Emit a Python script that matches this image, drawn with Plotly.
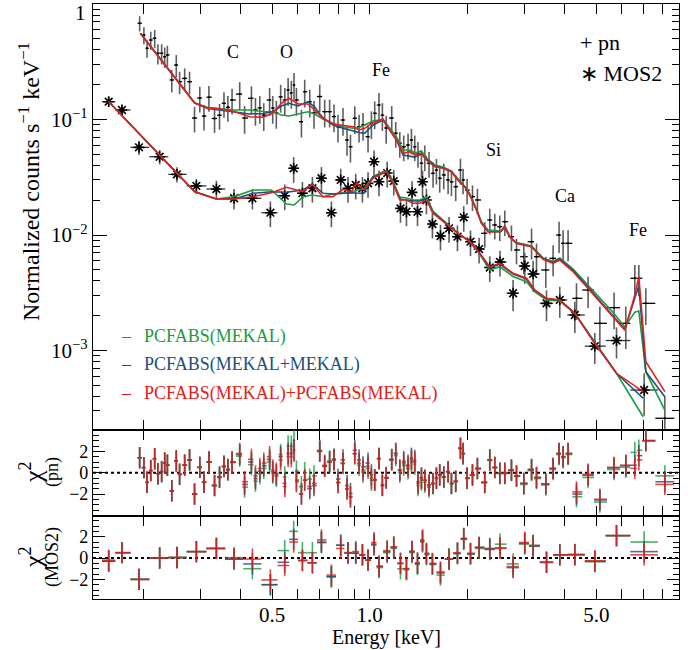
import numpy as np
import plotly.graph_objects as go

# ---------------- data ----------------
pn_E = [0.195, 0.201, 0.2055, 0.211, 0.217, 0.222, 0.228, 0.233, 0.2375, 0.245,
        0.253, 0.259, 0.2685, 0.278, 0.288, 0.299, 0.308, 0.319, 0.332, 0.344,
        0.355, 0.365, 0.376, 0.397, 0.411, 0.4315, 0.444, 0.458, 0.471, 0.491,
        0.502, 0.515, 0.531, 0.547, 0.560, 0.573, 0.584, 0.594, 0.6155, 0.630,
        0.653, 0.673, 0.701, 0.726, 0.752, 0.776, 0.798, 0.827, 0.851, 0.872,
        0.899, 0.927, 0.9535, 0.988, 1.012, 1.036, 1.068, 1.094, 1.124, 1.169,
        1.203, 1.238, 1.273, 1.313, 1.345, 1.377, 1.409, 1.444, 1.479, 1.524,
        1.568, 1.606, 1.644, 1.692, 1.745, 1.787, 1.842, 1.905, 1.941, 1.997,
        2.075, 2.149, 2.264, 2.346, 2.431, 2.519, 2.610, 2.737, 2.837, 2.988,
        3.157, 3.270, 3.493, 3.679, 3.839, 3.950, 4.093, 4.345, 4.718, 5.129,
        5.675, 6.168, 6.576, 6.765, 7.110, 8.138]
pn_flux = [0.681, 0.539, 0.4135, 0.488, 0.505, 0.374, 0.374, 0.350, 0.362, 0.220,
           0.296, 0.2125, 0.227, 0.2125, 0.103, 0.1535, 0.107, 0.156, 0.102, 0.109,
           0.138, 0.1275, 0.1475, 0.166, 0.103, 0.1526, 0.121, 0.126, 0.109, 0.1475,
           0.126, 0.114, 0.157, 0.1475, 0.180, 0.170, 0.199, 0.1475, 0.0957, 0.174,
           0.1426, 0.114, 0.158, 0.117, 0.117, 0.106, 0.0866, 0.099, 0.0665, 0.0581,
           0.1024, 0.0866, 0.0896, 0.0710, 0.0927, 0.113, 0.1335, 0.109, 0.0844, 0.103,
           0.076, 0.0622, 0.0581, 0.0601, 0.0665, 0.0581, 0.051, 0.0418, 0.0476, 0.0418,
           0.0342, 0.0365, 0.031, 0.0331, 0.030, 0.0289, 0.0262, 0.0365, 0.030, 0.0245,
           0.0215, 0.0201, 0.01034, 0.01349, 0.01221, 0.0118, 0.01303, 0.00967, 0.00742, 0.00649,
           0.00875, 0.00649, 0.00498, 0.00628, 0.0100, 0.00847, 0.00847, 0.00283, 0.00334, 0.00172,
           0.00235, 0.00172, 0.00422, 0.00422, 0.00256, 0.000259]
pn_frac = [0.15, 0.17, 0.17, 0.18, 0.18, 0.2, 0.2, 0.2, 0.2, 0.22, 0.22, 0.22, 0.22, 0.22,
           0.25, 0.25, 0.25, 0.25, 0.25, 0.25, 0.25, 0.25, 0.25,
           0.27, 0.27, 0.27, 0.27, 0.27, 0.27, 0.27, 0.27, 0.27, 0.27, 0.27, 0.27, 0.27, 0.27,
           0.27, 0.27, 0.27, 0.27, 0.27,
           0.27, 0.27, 0.27, 0.27, 0.27, 0.27, 0.27, 0.27, 0.27, 0.27, 0.27, 0.27, 0.27, 0.27,
           0.27, 0.27, 0.27, 0.27,
           0.25, 0.25, 0.25, 0.25, 0.25, 0.25, 0.25, 0.25, 0.25, 0.25, 0.25, 0.25, 0.25, 0.25,
           0.25, 0.25, 0.25, 0.25, 0.25, 0.25, 0.25, 0.25, 0.25, 0.25, 0.25, 0.25, 0.25, 0.25, 0.25,
           0.3, 0.3, 0.3, 0.3, 0.3, 0.3, 0.3, 0.3,
           0.35, 0.3, 0.4, 0.35, 0.4, 0.3, 0.3, 0.35, 0.55]

mos_E = [0.1565, 0.172, 0.1941, 0.2248, 0.2542, 0.2918, 0.3364, 0.3813, 0.4345, 0.4937,
         0.5466, 0.5826, 0.6198, 0.6654, 0.7095, 0.7616, 0.8137, 0.857, 0.9053, 0.9495,
         0.988, 1.031, 1.068, 1.132, 1.186, 1.244, 1.298, 1.351, 1.404, 1.455,
         1.496, 1.561, 1.653, 1.757, 1.865, 1.950, 2.046, 2.175, 2.346, 2.524,
         2.769, 3.008, 3.192, 3.511, 3.858, 4.293, 4.948, 5.773, 7.026]
mos_flux = [0.1426, 0.1208, 0.0574, 0.0476, 0.0335, 0.0266, 0.0250, 0.0208, 0.0208, 0.0156,
            0.0219, 0.0378, 0.0230, 0.0254, 0.0310, 0.0156, 0.0300, 0.0254, 0.0271, 0.0254,
            0.0280, 0.0431, 0.0289, 0.0344, 0.0293, 0.0170, 0.0159, 0.0234, 0.0159, 0.0289,
            0.0201, 0.01245, 0.0098, 0.01143, 0.00967, 0.01423, 0.00875, 0.00756, 0.00523, 0.00584,
            0.00313, 0.00539, 0.00460, 0.00256, 0.00274, 0.00203, 0.00109, 0.00122, 0.000455]
mos_frac = [0.1, 0.1, 0.14, 0.14, 0.15, 0.15, 0.18, 0.2, 0.2,
            0.25, 0.25, 0.25, 0.25, 0.25, 0.25, 0.25, 0.25, 0.25, 0.25, 0.25,
            0.25, 0.25, 0.25, 0.25, 0.25, 0.25, 0.25, 0.25, 0.25, 0.25, 0.25,
            0.25, 0.25, 0.25, 0.25, 0.25, 0.25, 0.25, 0.25, 0.25,
            0.3, 0.3, 0.3, 0.3, 0.3, 0.3, 0.3, 0.3, 0.4]

# folded models (pn)
pn_mod_E = [0.196, 0.2884, 0.3162, 0.3485, 0.3831, 0.4262, 0.4685, 0.5019, 0.5339, 0.5636,
            0.6008, 0.6449, 0.6763, 0.7175, 0.7703, 0.8271, 0.8882, 0.9269, 0.9651, 1.0237,
            1.099, 1.153, 1.209, 1.267, 1.329, 1.377, 1.444, 1.496, 1.587, 1.684,
            1.787, 1.873, 1.979, 2.036, 2.135, 2.212, 2.318, 2.431, 2.532, 2.610,
            2.705, 2.837, 3.046, 3.157, 3.426, 3.679, 3.858, 4.242, 4.665, 5.129,
            5.636, 6.124, 6.576, 6.765, 7.110, 8.138]
pn_mod_2pcf = [0.557, 0.139, 0.1258, 0.1233, 0.1168, 0.1057, 0.1045, 0.1131, 0.1381, 0.1526,
               0.1362, 0.1362, 0.1208, 0.1024, 0.0914, 0.0896, 0.0866, 0.0811, 0.0839, 0.0938,
               0.1004, 0.0811, 0.0665, 0.0510, 0.0526, 0.0493, 0.0510, 0.0446, 0.0390, 0.0378,
               0.0353, 0.0300, 0.0254, 0.0222, 0.01646, 0.01263, 0.01068, 0.01068, 0.01068, 0.01197,
               0.00967, 0.00847, 0.00803, 0.00792, 0.00616, 0.00569, 0.00607, 0.00481, 0.00357, 0.00265,
               0.00196, 0.00150, 0.00302, 0.00436, 0.000800, 0.000440]
pn_mod_2mek = [0.557, 0.139, 0.1245, 0.1208, 0.1161, 0.1116, 0.1127, 0.1168, 0.1309, 0.1381,
               0.1309, 0.1426, 0.1283, 0.1030, 0.0896, 0.0839, 0.0795, 0.0772, 0.0760, 0.0896,
               0.0990, 0.0811, 0.0665, 0.0493, 0.0483, 0.0473, 0.0503, 0.0455, 0.0396, 0.0380,
               0.0353, 0.0300, 0.0254, 0.0222, 0.01646, 0.0127, 0.01068, 0.01068, 0.01068, 0.01185,
               0.00961, 0.00847, 0.00803, 0.00792, 0.00626, 0.00578, 0.00620, 0.00493, 0.00365, 0.00271,
               0.00203, 0.00153, 0.00285, 0.00362, 0.000655, 0.000398]
pn_mod_pcf = [0.557, 0.139, 0.1270, 0.1245, 0.1208, 0.1208, 0.1173, 0.1168, 0.1094, 0.1072,
              0.1116, 0.1168, 0.1116, 0.1010, 0.0927, 0.0866, 0.0839, 0.0852, 0.0896, 0.0970,
              0.1004, 0.0844, 0.0706, 0.0545, 0.0545, 0.0513, 0.0534, 0.0464, 0.0404, 0.0388,
              0.0358, 0.0306, 0.0258, 0.0226, 0.0168, 0.01297, 0.01105, 0.01094, 0.01083, 0.01150,
              0.00961, 0.00861, 0.00819, 0.00803, 0.00632, 0.00590, 0.00632, 0.00508, 0.00380, 0.00285,
              0.00213, 0.00160, 0.00215, 0.00220, 0.000655, 0.000305]

# folded models (MOS2)
mos_mod_E = [0.1565, 0.2884, 0.3364, 0.3813, 0.4363, 0.4973, 0.5533, 0.5848, 0.6225, 0.6654,
             0.7175, 0.7703, 0.8271, 0.8782, 0.9098, 0.9583, 1.0237, 1.099, 1.126, 1.180,
             1.238, 1.298, 1.360, 1.427, 1.496, 1.568, 1.684, 1.766, 1.873, 2.036,
             2.185, 2.346, 2.519, 2.769, 3.046, 3.231, 3.511, 3.858, 4.293, 4.948,
             5.773, 6.977]
mos_mod_2pcf = [0.1426, 0.0237, 0.0205, 0.0205, 0.02147, 0.02323, 0.02588, 0.02487, 0.0237, 0.02736,
                0.02147, 0.02147, 0.02487, 0.0237, 0.02803, 0.02487, 0.03097, 0.03421, 0.03532, 0.02803,
                0.0201, 0.0201, 0.01881, 0.01881, 0.0201, 0.01542, 0.01303, 0.01180, 0.01034, 0.00875,
                0.00694, 0.00531, 0.00569, 0.00466, 0.00422, 0.00334, 0.00283, 0.00274, 0.00210, 0.001154,
                0.000635, 0.000440]
mos_mod_2mek = [0.1426, 0.0237, 0.0205, 0.0205, 0.02296, 0.0237, 0.02343, 0.02380, 0.02453, 0.02764,
                0.02296, 0.02265, 0.02309, 0.02323, 0.02309, 0.02296, 0.03178, 0.03476, 0.03532, 0.02803,
                0.0205, 0.0201, 0.0197, 0.0197, 0.0205, 0.01551, 0.01303, 0.01180, 0.01034, 0.00875,
                0.00694, 0.00518, 0.00561, 0.00460, 0.00416, 0.00331, 0.00281, 0.00274, 0.00210, 0.001154,
                0.000635, 0.000386]
mos_mod_pcf = [0.1426, 0.0237, 0.0205, 0.0215, 0.02453, 0.02453, 0.01855, 0.01819, 0.02147, 0.0222,
               0.02147, 0.02265, 0.02309, 0.02323, 0.02453, 0.02502, 0.03197, 0.03532, 0.03581, 0.02935,
               0.02133, 0.0209, 0.0201, 0.0201, 0.02133, 0.01614, 0.01349, 0.01197, 0.01040, 0.00878,
               0.00685, 0.00498, 0.00531, 0.00437, 0.00394, 0.00321, 0.00274, 0.00268, 0.00210, 0.001184,
               0.000635, 0.000267]

# residuals (chi) for pn
pn_res_2pcf = [1.4, 0.47, -0.9, 0.2, 1.3, -0.1, 0.1, 0.9, 0.7, -1.7,
               1.1, -0.15, 0.7, 1.2, -2.0, 0.5, -0.9, 1.0, -1.2, -0.4,
               0.6, 0.3, 1.0, 1.8, -0.85, 1.25, -0.3, 0.4, 0.9, 1.5,
               0.25, -0.05, 1.2, -1.3, 1.5, 1.5, 2.0, -0.85, -2.0, -0.7,
               -1.3, -1.0, 2.0, 0.6, 1.0, 1.2, -0.9, 0.9, -1.5, -2.25,
               1.8, 0.9, 0.25, 0.6, -0.5, -0.7, 1.3, -1.2, -0.5, 1.2,
               1.8, 0.25, 0.9, 0.56, 1.2, 1.0, -1.0, -0.5, -0.7, -1.15,
               -1.0, -0.5, -0.2, -0.4, 0.1, -1.0, -0.8, 2.3, 1.8, -0.5,
               -0.2, 0.4, -0.9, 1.2, 0.5, -0.05, -0.05, 0.25, -0.3, -1.0,
               0.3, -0.45, -1.05, 0.4, 1.8, 1.5, 1.8, -1.8, -0.15, -2.5,
               0.5, 0.7, 0.4, 1.2, 3.0, -1.1]
pn_res_2mek = [1.4, 0.47, -0.9, 0.2, 1.3, -0.1, 0.1, 0.9, 0.7, -1.7,
               1.1, -0.15, 0.7, 1.2, -2.0, 0.5, -0.9, 1.0, -1.2, -0.4,
               0.6, 0.3, 1.0, 1.7, -1.1, 1.0, -0.55, 0.15, 0.65, 1.25,
               0.1, -0.2, 1.5, -1.0, 1.8, 1.8, 2.15, -0.7, -2.0, -0.7,
               -1.5, -1.2, 2.0, 0.6, 1.0, 1.2, -0.6, 1.2, -1.2, -1.95,
               2.1, 1.2, 0.55, 0.9, -0.2, -0.65, 1.35, -1.15, -0.45, 1.25,
               1.8, 0.25, 1.05, 0.71, 1.35, 1.15, -0.85, -0.5, -0.7, -1.15,
               -1.0, -0.5, -0.2, -0.4, 0.1, -1.0, -0.8, 2.3, 1.8, -0.5,
               -0.2, 0.4, -0.9, 1.2, 0.5, -0.05, -0.05, 0.25, -0.3, -1.0,
               0.3, -0.45, -1.05, 0.4, 1.8, 1.5, 1.8, -2.0, -0.25, -2.55,
               0.45, 0.65, 0.7, 1.6, 3.0, -0.85]
pn_res_pcf = [1.4, 0.47, -0.9, 0.2, 1.3, -0.1, 0.1, 0.9, 0.7, -1.7,
              1.1, -0.15, 0.7, 1.2, -2.0, 0.5, -0.9, 1.0, -1.2, -0.45,
              0.55, 0.25, 0.95, 1.55, -1.35, 0.75, -0.8, -0.1, 0.4, 1.0,
              -0.05, -0.35, 1.7, -0.4, 2.5, 2.5, 3.0, 0.15, -1.3, 0.0,
              -0.6, -0.3, 2.1, 0.7, 1.1, 1.3, -0.95, 0.85, -1.55, -2.3,
              1.75, 0.7, 0.05, 0.4, -0.7, -0.7, 1.3, -1.2, -0.5, 1.2,
              1.6, 0.05, 0.7, 0.36, 1.0, 0.8, -1.2, -0.7, -0.9, -1.35,
              -1.05, -0.55, -0.25, -0.45, 0.05, -1.05, -0.85, 2.25, 1.75, -0.55,
              -0.25, 0.35, -0.95, 1.15, 0.45, -0.1, -0.1, 0.2, -0.35, -1.1,
              0.2, -0.55, -1.15, 0.3, 1.7, 1.4, 1.7, -2.25, -0.45, -2.75,
              0.3, 0.5, 1.9, 2.1, 3.0, -0.3]

# residuals (chi) for MOS2
mos_res_2pcf = [-0.2, 0.5, -2.0, 0.0, 0.05, 0.6, 0.9, 0.03, -0.1, -2.05,
                -0.7, 1.5, -0.2, -0.45, 1.7, -1.6, 0.9, 0.45, 0.6, 0.3,
                -0.2, 1.45, -0.75, 0.7, 1.05, -0.5, -1.0, 0.65, -0.45, 1.7,
                0.45, -0.5, -1.3, -0.1, 0.5, 1.85, 0.45, 1.0, 0.8, 0.9,
                -0.8, 1.45, 1.15, -0.4, 0.3, 0.35, -0.25, 2.1, 0.3]
mos_res_2mek = [-0.3, 0.5, -2.0, 0.0, 0.05, 0.6, 0.9, -0.1, -0.55, -2.5,
                -0.4, 1.75, -0.25, -0.45, 1.45, -1.75, 1.2, 0.5, 0.45, 0.3,
                -0.2, 1.3, -0.8, 0.6, 1.0, -0.5, -1.0, 0.6, -0.5, 1.6,
                0.4, -0.55, -1.4, -0.1, 0.45, 1.8, 0.4, 1.0, 0.85, 0.95,
                -0.9, 1.4, 1.1, -0.4, 0.3, 0.3, -0.3, 2.1, 0.6]
mos_res_pcf = [-0.3, 0.5, -2.0, 0.0, 0.05, 0.6, 0.9, -0.1, -1.0, -2.5,
               0.7, 2.5, 0.5, 0.5, 1.5, -1.75, 1.2, 0.5, 0.45, 0.3,
               -0.2, 1.2, -0.9, 0.5, 0.9, -1.0, -1.1, 0.5, -0.6, 1.5,
               0.3, -0.6, -1.6, -0.1, 0.4, 1.75, 0.35, 0.9, 0.9, 1.3,
               -0.55, 1.3, 1.2, -0.4, 0.3, 0.3, -0.35, 2.1, 1.5]

x_label_vals = [0.5, 1, 5]
x_label_text = ["0.5", "1.0", "5.0"]
x_minor_vals = [0.2, 0.3, 0.4, 0.6, 0.7, 0.8, 0.9, 2, 3, 4, 6, 7, 8, 9]
y_tick_vals = [1e-3, 1e-2, 1e-1]
y_tick_text = ["10<sup>\u22123</sup>", "10<sup>\u22122</sup>", "10<sup>\u22121</sup>"]
res_tick_vals = [-2, 0, 2]
res_tick_text = ["\u22122", "0", "2"]
model_names = ["PCFABS(MEKAL)", "PCFABS(MEKAL+MEKAL)", "PCFABS(MEKAL)+PCFABS(MEKAL)"]

# ---------------- styling ----------------
GREEN = "#1e9b3c"
BLUE = "#1c4f7c"
RED = "#e3201b"
FONT = "Liberation Serif"


def halfwidths(E):
    E = np.asarray(E, float)
    mid = np.sqrt(E[:-1] * E[1:])
    lo = np.concatenate([[E[0] ** 2 / mid[0]], mid])
    hi = np.concatenate([mid, [E[-1] ** 2 / mid[-1]]])
    return (E - lo).tolist(), (hi - E).tolist()


pn_lo, pn_hi = halfwidths(pn_E)
mos_lo, mos_hi = halfwidths(mos_E)
pn_err = (np.asarray(pn_flux) * np.asarray(pn_frac)).tolist()
mos_err = (np.asarray(mos_flux) * np.asarray(mos_frac)).tolist()

fig = go.Figure()

# data, top panel
fig.add_trace(go.Scatter(
    x=pn_E, y=pn_flux, mode="markers", xaxis="x", yaxis="y",
    marker=dict(size=2, color="black"),
    error_y=dict(type="data", array=pn_err, color="#5e5e5e", thickness=1.6, width=0),
    error_x=dict(type="data", symmetric=False, array=pn_hi, arrayminus=pn_lo,
                 color="black", thickness=1.3, width=0)))
fig.add_trace(go.Scatter(
    x=mos_E, y=mos_flux, mode="markers", xaxis="x", yaxis="y",
    marker=dict(symbol="asterisk-open", size=9, color="black", line=dict(width=1.6, color="black")),
    error_y=dict(type="data", array=mos_err, color="#5e5e5e", thickness=1.6, width=0),
    error_x=dict(type="data", symmetric=False, array=mos_hi, arrayminus=mos_lo,
                 color="#333333", thickness=1.3, width=0)))

# models
for mE, mvals in [(pn_mod_E, (pn_mod_pcf, pn_mod_2mek, pn_mod_2pcf)),
                  (mos_mod_E, (mos_mod_pcf, mos_mod_2mek, mos_mod_2pcf))]:
    for vals, col in zip(mvals, (GREEN, BLUE, RED)):
        fig.add_trace(go.Scatter(x=mE, y=vals, mode="lines", xaxis="x", yaxis="y",
                                 line=dict(color=col, width=1.6)))


# residuals
def add_res(E, lo, hi, res_list, xa, ya):
    cols = ("rgba(30,155,60,0.8)", "rgba(28,79,124,0.8)", "rgba(220,30,25,0.8)")
    for res, col in zip(res_list, cols):
        fig.add_trace(go.Scatter(
            x=E, y=res, mode="markers", xaxis=xa, yaxis=ya,
            marker=dict(size=1, color=col),
            error_y=dict(type="data", array=[1] * len(E), color=col, thickness=1.6, width=0),
            error_x=dict(type="data", symmetric=False, array=hi, arrayminus=lo,
                         color=col, thickness=1.6, width=0)))


add_res(pn_E, pn_lo, pn_hi, (pn_res_pcf, pn_res_2mek, pn_res_2pcf), "x2", "y2")
add_res(mos_E, mos_lo, mos_hi, (mos_res_pcf, mos_res_2mek, mos_res_2pcf), "x3", "y3")

# ---------------- layout ----------------
xrange = [np.log10(0.14), np.log10(9.0)]
xcommon = dict(type="log", range=xrange, showline=True, linecolor="black", linewidth=1,
               mirror="allticks", ticks="inside", ticklen=10, tickwidth=1.1, tickcolor="black",
               tickmode="array", tickvals=x_label_vals, ticktext=x_label_text,
               minor=dict(tickmode="array", tickvals=x_minor_vals, ticks="inside", ticklen=10,
                          tickcolor="black", tickwidth=1.1),
               showgrid=False, zeroline=False,
               tickfont=dict(family=FONT, size=21, color="black"))

top_minor = [m * 10.0 ** e for e in (-4, -3, -2, -1) for m in range(2, 10) if m * 10.0 ** e > 2.05e-4]
ycommon = dict(showline=True, linecolor="black", linewidth=1.2, mirror="allticks",
               ticks="inside", tickwidth=1.1, tickcolor="black", showgrid=False, zeroline=False,
               tickfont=dict(family=FONT, size=21, color="black"))
res_minor = dict(dtick=0.5, tick0=0, ticks="inside", ticklen=6, tickcolor="black", tickwidth=1.1)

d1 = (599 - 430) / 595
d2 = (599 - 516) / 595

fig.update_layout(
    width=700, height=650,
    margin=dict(l=93, r=21, t=4, b=51),
    paper_bgcolor="white", plot_bgcolor="white",
    showlegend=False, hovermode=False,
    font=dict(family=FONT, color="black"),
    xaxis=dict(xcommon, anchor="y", showticklabels=False),
    xaxis2=dict(xcommon, anchor="y2", matches="x", showticklabels=False),
    xaxis3=dict(xcommon, anchor="y3", matches="x", showticklabels=True, ticklabelstandoff=-3),
    yaxis=dict(ycommon, type="log", domain=[d1, 1], anchor="x",
               range=[np.log10(2.05e-4), 0.0], tickmode="array",
               tickvals=y_tick_vals, ticktext=y_tick_text, ticklen=14,
               minor=dict(tickmode="array", tickvals=top_minor, ticks="inside", ticklen=7,
                          tickcolor="black", tickwidth=1.1)),
    yaxis2=dict(ycommon, domain=[d2, d1], anchor="x2", range=[-4.06, 4.0],
                tickmode="array", tickvals=res_tick_vals, ticktext=res_tick_text, ticklen=12,
                tickfont=dict(family=FONT, size=18, color="black"), minor=res_minor),
    yaxis3=dict(ycommon, domain=[0, d2], anchor="x3", range=[-3.84, 3.94],
                tickmode="array", tickvals=res_tick_vals, ticktext=res_tick_text, ticklen=12,
                tickfont=dict(family=FONT, size=18, color="black"), minor=res_minor),
)

for xa, ya in (("x2", "y2"), ("x3", "y3")):
    fig.add_shape(type="line", xref=f"{xa} domain", x0=0, x1=1, yref=ya, y0=0, y1=0,
                  layer="below", line=dict(color="black", width=2, dash="dot"))


def px(x):
    return (x - 93) / 586


def py(y):
    return 1 - (y - 4) / 595


ann = []


def txt(x, y, s, size=18, color="black", xanchor="center", angle=0):
    ann.append(dict(x=px(x), y=py(y), xref="paper", yref="paper", text=s, showarrow=False,
                    xanchor=xanchor, yanchor="middle", textangle=angle,
                    font=dict(family=FONT, size=size, color=color)))


txt(233, 52, "C", 18)
txt(286, 52, "O", 18)
txt(381, 70, "Fe", 18)
txt(493, 150, "Si", 18)
txt(565, 196, "Ca", 18)
txt(638, 230, "Fe", 18)
txt(578, 43, "+ pn", 22, xanchor="left")
txt(578, 73, "\u2217 MOS2", 22, xanchor="left")
for yy, col, name in zip((336, 364, 393), (GREEN, BLUE, RED), model_names):
    txt(126, yy, "\u2013", 18, col)
    txt(142, yy, name, 18, col, xanchor="left")
txt(80, 13, "1", 21)
txt(29, 182, "Normalized counts s<sup>\u22121</sup> keV<sup>\u22121</sup>", 24, angle=-90)
txt(31, 472, "\u03c7<sup>2</sup>", 26, angle=-90)
txt(52, 472, "(pn)", 18, angle=-90)
txt(31, 557, "\u03c7<sup>2</sup>", 26, angle=-90)
txt(52, 557, "(MOS2)", 18, angle=-90)
txt(386, 637, "Energy [keV]", 20)
fig.update_layout(annotations=ann)

fig.write_html("out.html")
